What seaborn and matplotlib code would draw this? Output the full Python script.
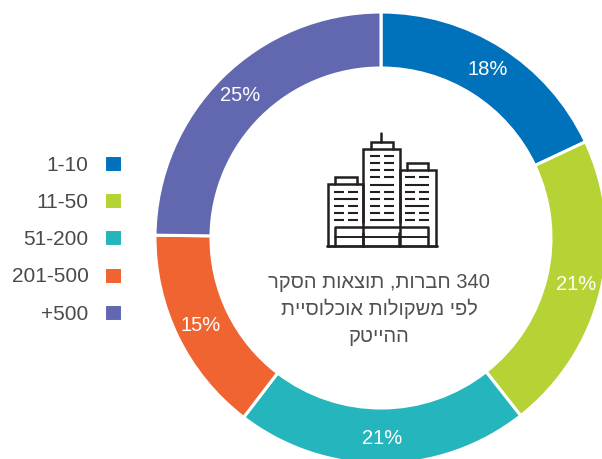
import matplotlib
matplotlib.use("Agg")
import matplotlib.pyplot as plt
import seaborn as sns

sizes = ["1-10", "11-50", "51-200", "201-500", "+500"]
shares = [18.0, 21.4, 21.0, 14.8, 24.8]
colors = ["#0072BC", "#B5D334", "#25B5BD", "#EF6430", "#6268B0"]

# matplotlib has no bidi, so the hebrew is reversed by hand for drawing
center_lines = ["340 חברות, תוצאות הסקר", "לפי משקולות אוכלוסיית", "ההייטק"]


def visual_order(line):
    if line.startswith("340 "):
        return line[4:][::-1] + " 340"
    return line[::-1]


def draw_building(ax, left, right, top, cap_l, cap_r, cap_top, bottom):
    ink = "#231F20"
    ax.plot([left, left, right, right], [bottom, top, top, bottom],
            color=ink, lw=1.8, solid_joinstyle="miter")
    ax.plot([cap_l, cap_l, cap_r, cap_r], [top, cap_top, cap_top, top],
            color=ink, lw=1.8, solid_joinstyle="miter")


def draw_windows(ax, x0, x1, x2, x3, rows, full_rows):
    ink = "#231F20"
    for y in rows:
        if y in full_rows:
            ax.plot([x0, x3], [y, y], color=ink, lw=1.5, solid_capstyle="butt")
        else:
            ax.plot([x0, x1], [y, y], color=ink, lw=1.5, solid_capstyle="butt")
            ax.plot([x2, x3], [y, y], color=ink, lw=1.5, solid_capstyle="butt")


def draw_icon(ax):
    ink = "#231F20"
    draw_building(ax, 328, 363, 184, 335, 357, 177, 246)
    draw_building(ax, 363, 400, 149, 371, 393, 142, 222)
    draw_building(ax, 400, 436, 170, 407, 428, 163, 246)
    ax.plot([381, 381], [133, 142], color=ink, lw=1.8)

    draw_windows(ax, 334, 344, 348, 358, [192, 199, 206, 213, 220], [199])
    draw_windows(ax, 370, 380, 384, 394,
                 [156, 163, 170, 177, 185, 192, 199, 206, 213, 220], [185, 220])
    draw_windows(ax, 405, 415, 419, 429,
                 [177, 185, 192, 199, 206, 213, 220], [185, 206])

    ax.plot([327, 437], [246, 246], color=ink, lw=2)
    ax.plot([335, 335, 428, 428], [246, 227, 227, 246], color=ink, lw=1.8)
    ax.plot([335, 428], [237, 237], color=ink, lw=1.4)
    ax.plot([363, 363], [233, 246], color=ink, lw=1.8)
    ax.plot([399, 399], [233, 246], color=ink, lw=1.8)


sns.set_theme(style="white")
plt.rcParams["font.family"] = ["Liberation Sans", "DejaVu Sans"]

fig = plt.figure(figsize=(6.02, 4.59), dpi=100)
ax = fig.add_axes([0, 0, 1, 1])

# y runs downward here, so counterclock in data reads clockwise on screen
wedges, _, pct_texts = ax.pie(
    shares, colors=sns.color_palette(colors), startangle=-90, counterclock=True,
    center=(381, 238), radius=226, autopct="%.0f%%", pctdistance=0.885,
    wedgeprops={"width": 56, "edgecolor": "white", "linewidth": 2.2},
    textprops={"color": "white", "fontsize": 14.5}, frame=True)

ax.set_xlim(0, 602)
ax.set_ylim(459, 0)
ax.axis("off")

for line, y in zip(center_lines, [282, 309, 337]):
    ax.text(379, y, visual_order(line), ha="center", va="center",
            fontsize=14.5, color="#505050")

draw_icon(ax)

ax.legend(wedges, sizes, loc="upper right", bbox_to_anchor=(122 / 602, 1 - 155 / 459),
          frameon=False, markerfirst=False, labelcolor="#4A4A4A", fontsize=15,
          handlelength=0.88, handleheight=0.88, handletextpad=0.72,
          labelspacing=0.84, borderpad=0, borderaxespad=0)

fig.savefig("out.png", dpi=100)
